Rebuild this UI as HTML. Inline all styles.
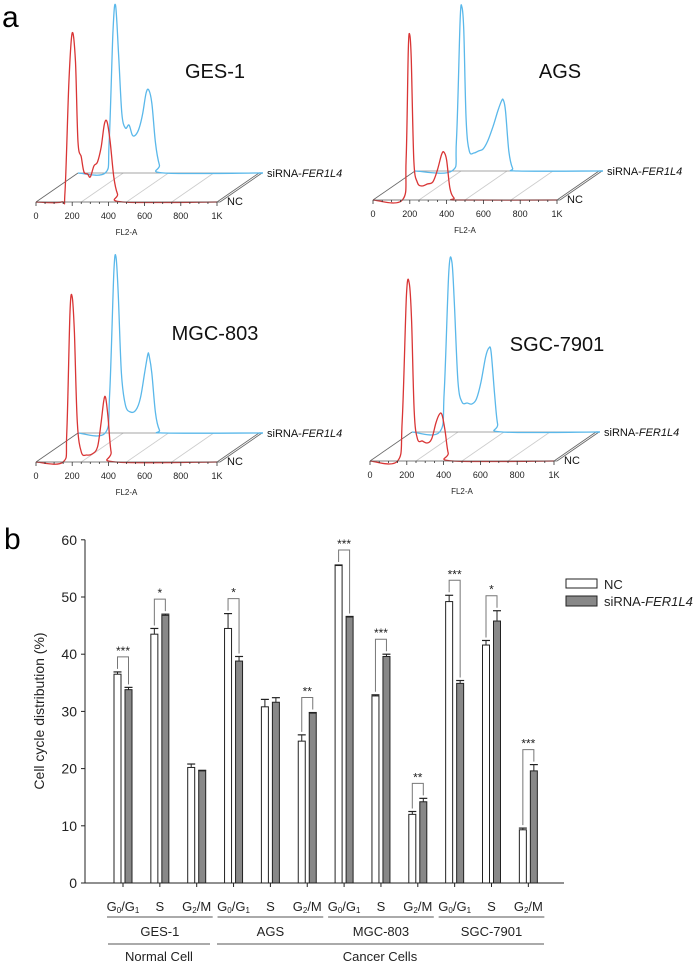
<!DOCTYPE html>
<html><head><meta charset="utf-8"><style>
html,body{margin:0;padding:0;background:#fff}
svg{display:block;font-family:"Liberation Sans",Arial,sans-serif}
</style></head><body>
<svg id="fig" width="697" height="962" viewBox="0 0 697 962">
<text x="2" y="27" font-size="30">a</text>
<text x="4" y="549" font-size="30">b</text>
<g id="hist"></g>
<g id="bars"></g>
</svg>
<script>
// ---------- Histogram data: [FL2-A value, height in px-units] ----------
const gesRed=[[0,0],[140,0],[160,10],[182,120],[200,169],[218,140],[232,60],[250,45],[265,30],[285,28],[300,25],[320,36],[340,40],[360,55],[378,78],[393,80],[410,60],[430,25],[450,8],[480,0],[1000,0]];
const gesBlue=[[0,0],[150,0],[172,30],[193,140],[207,168],[224,120],[242,60],[262,45],[282,48],[300,38],[318,38],[338,45],[358,60],[376,80],[391,83],[408,70],[428,30],[450,8],[475,0],[1000,0]];
const agsRed=[[0,0],[160,0],[180,40],[192,150],[200,165],[208,140],[222,40],[240,18],[265,14],[295,16],[325,18],[350,30],[372,45],[385,48],[400,40],[418,12],[440,2],[470,0],[1000,0]];
const agsBlue=[[0,0],[200,0],[225,30],[245,150],[255,164],[265,140],[278,50],[295,20],[320,18],[345,20],[370,22],[395,30],[425,45],[450,60],[470,70],[480,71],[492,60],[510,20],[530,3],[560,0],[1000,0]];
const mgcRed=[[0,0],[150,0],[170,30],[188,150],[200,165],[212,130],[228,40],[250,10],[280,7],[310,8],[340,15],[360,40],[375,62],[385,64],[398,45],[415,10],[440,0],[1000,0]];
const mgcBlue=[[0,0],[150,0],[175,40],[198,160],[210,176],[222,140],[240,60],[262,28],[290,21],[320,23],[345,35],[368,60],[385,78],[392,78],[408,60],[428,20],[450,3],[480,0],[1000,0]];
const sgcRed=[[0,0],[150,0],[175,40],[198,165],[213,178],[226,140],[240,50],[258,22],[285,20],[310,18],[335,22],[358,38],[378,47],[392,46],[408,30],[425,8],[450,0],[1000,0]];
const sgcBlue=[[0,0],[150,0],[175,40],[200,160],[217,170],[230,130],[250,50],[272,30],[300,29],[325,28],[350,33],[375,50],[400,75],[418,84],[430,80],[448,40],[465,8],[490,0],[1000,0]];
const panelNames=["GES-1","AGS","MGC-803","SGC-7901"];
const tickLabels=["0","200","400","600","800","1K"];
const tickValues=[0,200,400,600,800,1000];

const NS="http://www.w3.org/2000/svg";
function mk(tag,attrs,parent){const e=document.createElementNS(NS,tag);for(const k in attrs)e.setAttribute(k,attrs[k]);parent.appendChild(e);return e;}
function smooth(pts){let d="M"+pts[0][0]+","+pts[0][1];for(let i=0;i<pts.length-1;i++){const p0=pts[Math.max(0,i-1)],p1=pts[i],p2=pts[i+1],p3=pts[Math.min(pts.length-1,i+2)];const c1x=p1[0]+(p2[0]-p0[0])/6,c1y=p1[1]+(p2[1]-p0[1])/6,c2x=p2[0]-(p3[0]-p1[0])/6,c2y=p2[1]-(p3[1]-p1[1])/6;d+=" C"+c1x.toFixed(1)+","+c1y.toFixed(1)+" "+c2x.toFixed(1)+","+c2y.toFixed(1)+" "+p2[0].toFixed(1)+","+p2[1].toFixed(1);}return d;}

function panel(ox,by,sc,name,red,blue,lx,ly,idx){
  const H=document.getElementById('hist');
  const g=mk('g',{},H);
  
  
  const dx=42,dy=-29,W=sc*1000;
  const fx=v=>ox+v*sc;
  [250,500,750].forEach(v=>{const l=mk('line',{x1:fx(v),y1:by,x2:fx(v)+dx,y2:by+dy,stroke:'#ccc','stroke-width':0.8},g);});
  mk('line',{x1:ox,y1:by,x2:ox+dx,y2:by+dy,stroke:'#666','stroke-width':0.8},g);
  mk('line',{x1:ox+W,y1:by,x2:ox+W+dx,y2:by+dy,stroke:'#666','stroke-width':0.8},g);
  mk('line',{x1:ox+W+3,y1:by,x2:ox+W+dx+3,y2:by+dy,stroke:'#666','stroke-width':0.8},g);
  mk('line',{x1:ox+W,y1:by,x2:ox+W+3,y2:by,stroke:'#666','stroke-width':0.8},g);
  mk('line',{x1:ox+dx,y1:by+dy,x2:ox+W+dx+3,y2:by+dy,stroke:'#888','stroke-width':0.8},g);
  const bp=blue.map(p=>[ox+dx+p[0]*sc,by+dy-p[1]]);
  const b=mk('path',{d:smooth(bp),fill:'none',stroke:'#5ab8ea','stroke-width':1.3},g);
  
  mk('line',{x1:fx(1000)+dx,y1:by+dy,x2:fx(1000)+dx+4,y2:by+dy,stroke:'#5ab8ea','stroke-width':1.5},g);
  const rp=red.map(p=>[fx(p[0]),by-p[1]]);
  const r=mk('path',{d:smooth(rp),fill:'none',stroke:'#d93535','stroke-width':1.3},g);
  
  mk('line',{x1:ox,y1:by,x2:ox+W,y2:by,stroke:'#555','stroke-width':0.8},g);
  for(let v=0;v<=1000;v+=50){mk('line',{x1:fx(v),y1:by,x2:fx(v),y2:by+(v%200===0?4:2),stroke:'#333','stroke-width':0.8},g);}
  tickValues.forEach((v,i)=>{const t=mk('text',{x:fx(v),y:by+17,'font-size':9,'text-anchor':'middle',fill:'#222'},g);t.textContent=tickLabels[i];});
  const xt=mk('text',{x:fx(500),y:by+33,'font-size':8,'text-anchor':'middle',fill:'#222'},g);xt.textContent="FL2-A";
  
  const nt=mk('text',{x:lx,y:ly,'font-size':20,'text-anchor':'middle',fill:'#111'},g);nt.textContent=name;
  
  const s=mk('text',{x:ox+W+dx+8,y:by+dy+4,'font-size':11,fill:'#111'},g);
  s.innerHTML='siRNA-<tspan font-style="italic">FER1L4</tspan>';
  
  const n=mk('text',{x:ox+W+10,y:by+3,'font-size':11,fill:'#111'},g);n.textContent="NC";
  
}
panel(36,202,0.181,panelNames[0],gesRed,gesBlue,215,78,0);
panel(373,200,0.184,panelNames[1],agsRed,agsBlue,560,78,1);
panel(36,462,0.181,panelNames[2],mgcRed,mgcBlue,215,340,2);
panel(370,461,0.184,panelNames[3],sgcRed,sgcBlue,557,351,3);

// ---------- Bar chart data ----------
const phases=["G0/G1","S","G2/M","G0/G1","S","G2/M","G0/G1","S","G2/M","G0/G1","S","G2/M"];
const ncValues=[36.5,43.5,20.2,44.5,30.8,24.8,55.5,32.7,12.0,49.2,41.6,9.3];
const ncErrors=[0.4,1.0,0.6,2.6,1.3,1.1,0.1,0.2,0.5,1.1,0.8,0.3];
const siValues=[33.8,46.8,19.6,38.8,31.6,29.7,46.5,39.6,14.2,34.9,45.8,19.6];
const siErrors=[0.4,0.2,0.1,0.8,0.8,0.1,0.1,0.4,0.6,0.5,1.8,1.1];
const stars=["***","*","","*","","**","***","***","**","***","*","***"];
const yTicks=[0,10,20,30,40,50,60];
const cellLines=["GES-1","AGS","MGC-803","SGC-7901"];

const B=document.getElementById('bars');
const y0=883,yPer=5.72,ax=85,xEnd=564;
const yS=v=>y0-v*yPer;
const cx=i=>123+i*36.85;
mk('line',{x1:ax,y1:yS(60),x2:ax,y2:y0,stroke:'#222','stroke-width':1},B);
mk('line',{x1:ax-4,y1:y0,x2:xEnd,y2:y0,stroke:'#222','stroke-width':1},B);
yTicks.forEach(v=>{mk('line',{x1:ax-4,y1:yS(v),x2:ax,y2:yS(v),stroke:'#222'},B);const t=mk('text',{x:ax-8,y:yS(v)+5,'font-size':14,'text-anchor':'end',fill:'#222'},B);t.textContent=v;});
const yt=mk('text',{x:0,y:0,'font-size':14,'text-anchor':'middle',fill:'#222',transform:'translate(44,711) rotate(-90)'},B);yt.textContent="Cell cycle distribution (%)";

phases.forEach((p,i)=>{
  const c=cx(i);
  mk('line',{x1:c,y1:y0,x2:c,y2:y0+4,stroke:'#222'},B);
  const wb=mk('rect',{x:c-9,y:yS(ncValues[i]),width:7,height:ncValues[i]*yPer,fill:'#fff',stroke:'#222','stroke-width':1},B);
  
  const gb=mk('rect',{x:c+2,y:yS(siValues[i]),width:7,height:siValues[i]*yPer,fill:'#888',stroke:'#222','stroke-width':1},B);
  
  [[c-5.5,ncValues[i],ncErrors[i]],[c+5.5,siValues[i],siErrors[i]]].forEach(([x,v,e])=>{
    mk('line',{x1:x,y1:yS(v),x2:x,y2:yS(v+e),stroke:'#222'},B);
    mk('line',{x1:x-4,y1:yS(v+e),x2:x+4,y2:yS(v+e),stroke:'#222','stroke-width':1.2},B);
  });
  if(stars[i]){
    const t1=yS(ncValues[i]+ncErrors[i])-3,t2=yS(siValues[i]+siErrors[i])-3;
    const top=Math.min(t1,t2)-12;
    const br=mk('polyline',{points:`${c-5.5},${t1} ${c-5.5},${top} ${c+5.5},${top} ${c+5.5},${t2}`,fill:'none',stroke:'#777','stroke-width':1},B);
    
    const st=mk('text',{x:c,y:top-2,'font-size':12,'text-anchor':'middle',fill:'#222'},B);st.textContent=stars[i];
    
  }
  const lab=mk('text',{x:c,y:911,'font-size':13,'text-anchor':'middle',fill:'#222'},B);
  lab.innerHTML=p==="S"?"S":(p==="G0/G1"?'G<tspan font-size="8" dy="2">0</tspan><tspan dy="-2">/G</tspan><tspan font-size="8" dy="2">1</tspan>':'G<tspan font-size="8" dy="2">2</tspan><tspan dy="-2">/M</tspan>');
  
});
cellLines.forEach((n,k)=>{
  const a=cx(k*3)-16,b=cx(k*3+2)+16;
  mk('line',{x1:a,y1:917,x2:b,y2:917,stroke:'#555'},B);
  const t=mk('text',{x:(a+b)/2,y:936,'font-size':13,'text-anchor':'middle',fill:'#222'},B);t.textContent=n;
  
});
mk('line',{x1:108,y1:944,x2:210,y2:944,stroke:'#555'},B);
mk('line',{x1:217,y1:944,x2:544,y2:944,stroke:'#555'},B);
const nc1=mk('text',{x:159,y:961,'font-size':13,'text-anchor':'middle',fill:'#222'},B);nc1.textContent="Normal Cell";

const cc1=mk('text',{x:380,y:961,'font-size':13,'text-anchor':'middle',fill:'#222'},B);cc1.textContent="Cancer Cells";

const lg=mk('g',{},B);

mk('rect',{x:566,y:579,width:31,height:9,fill:'#fff',stroke:'#222'},lg);
mk('rect',{x:566,y:596,width:31,height:10,fill:'#888',stroke:'#222'},lg);
const l1=mk('text',{x:604,y:589,'font-size':13,fill:'#222'},lg);l1.textContent="NC";

const l2=mk('text',{x:604,y:606,'font-size':13,fill:'#222'},lg);l2.innerHTML='siRNA-<tspan font-style="italic">FER1L4</tspan>';

</script>
</body></html>
